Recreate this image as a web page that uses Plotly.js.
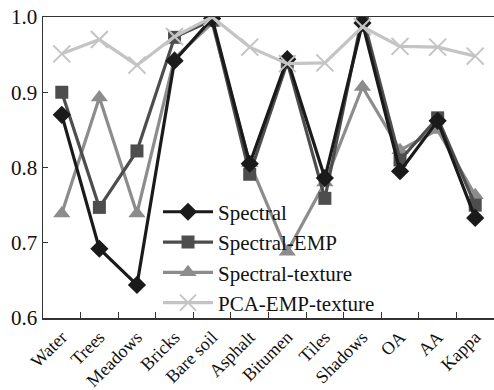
<!DOCTYPE html>
<html><head><meta charset="utf-8">
<script src="https://cdn.plot.ly/plotly-3.0.1.min.js"></script>
<style>html,body{margin:0;padding:0;background:#fff}#c{width:494px;height:390px}</style>
</head><body><div id="c"></div>
<script>
const categories = ["Water","Trees","Meadows","Bricks","Bare soil","Asphalt","Bitumen","Tiles","Shadows","OA","AA","Kappa"];
const spectral        = [0.870,0.692,0.644,0.942,0.998,0.805,0.944,0.786,0.992,0.795,0.862,0.733];
const spectralEMP     = [0.900,0.747,0.822,0.973,0.996,0.791,0.940,0.759,1.002,0.810,0.866,0.750];
const spectralTexture = [0.739,0.893,0.739,0.945,0.992,0.806,0.688,0.780,0.907,0.823,0.850,0.763];
const pcaEMPTexture   = [0.951,0.970,0.936,0.974,1.000,0.960,0.938,0.939,0.987,0.961,0.960,0.948];

const serif = "Liberation Serif, Times New Roman, serif";
const traces = [
  {name:"Spectral-texture", y:spectralTexture, color:"#8c8c8c", sym:"triangle-up", size:15, rank:3},
  {name:"Spectral-EMP", y:spectralEMP, color:"#4d4d4d", sym:"square", size:13, rank:2},
  {name:"Spectral", y:spectral, color:"#1a1a1a", sym:"diamond", size:14, rank:1},
  {name:"PCA-EMP-texture", y:pcaEMPTexture, color:"#c4c4c4", sym:"x-thin-open", size:17, rank:4}
].map(t => ({
  type:"scatter", mode:"lines+markers", name:t.name, x:categories, y:t.y,
  legendrank:t.rank,
  line:{color:t.color, width:3.2},
  marker:{symbol:t.sym, size:t.size, color:t.color, line:{color:t.color, width: t.sym==="x-thin-open"?2:0}}
}));

const layout = {
  width:494, height:390,
  margin:{l:43, r:0, t:17, b:72},
  paper_bgcolor:"#fff", plot_bgcolor:"#fff",
  showlegend:true,
  legend:{x:0.255, y:0.42, xanchor:"left", yanchor:"top", bgcolor:"rgba(0,0,0,0)",
          font:{family:serif, size:21, color:"#111"}, tracegroupgap:0, itemwidth:50},
  xaxis:{type:"category", range:[-0.5,11.5], showline:true, linecolor:"#333", linewidth:1.5,
         mirror:true, ticks:"inside", tickson:"boundaries", ticklen:6, tickcolor:"#333",
         tickangle:-45, tickfont:{family:serif, size:18, color:"#111"}, showgrid:false, zeroline:false},
  yaxis:{range:[0.6,1.0], dtick:0.1, tick0:0.6, tickformat:".1f", showline:true, linecolor:"#333",
         linewidth:1.5, ticks:"inside", ticklen:5, tickcolor:"#333",
         tickfont:{family:serif, size:21, color:"#111"}, showgrid:false, zeroline:false}
};
Plotly.newPlot("c", traces, layout, {staticPlot:true, displayModeBar:false});
</script></body></html>
